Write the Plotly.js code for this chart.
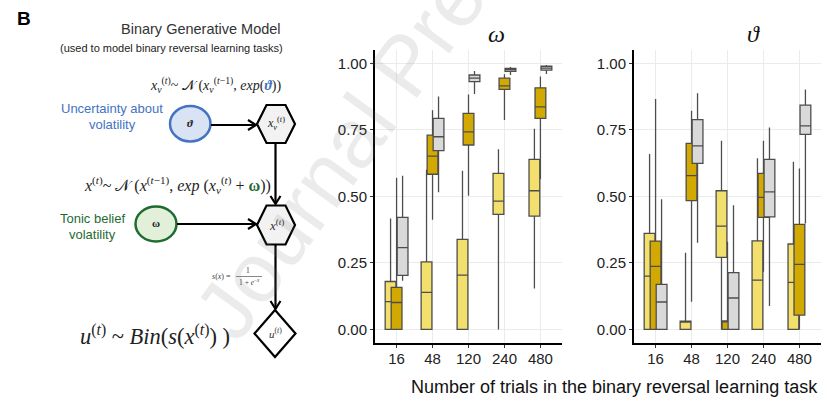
<!DOCTYPE html>
<html><head><meta charset="utf-8">
<script src="https://cdn.plot.ly/plotly-3.0.1.min.js"></script>
<style>html,body{margin:0;padding:0;background:#fff;}#chart{width:827px;height:402px;}</style>
</head><body><div id="chart"></div>
<script>
// ---- data ----
const categories = ['16', '48', '120', '240', '480'];
// each entry: [lowerWhisker, q1, median, q3, upperWhisker]
const omegaLight = [[0, 0, 0.104, 0.180, 0.417], [0, 0, 0.139, 0.254, 0.600], [0, 0, 0.204, 0.338, 0.596], [0, 0.432, 0.482, 0.586, 0.677], [0.154, 0.426, 0.521, 0.639, 0.754]];
const omegaGold  = [[0, 0, 0.101, 0.158, 0.570], [0.412, 0.583, 0.651, 0.730, 0.824], [0.502, 0.693, 0.742, 0.812, 0.883], [0.787, 0.902, 0.915, 0.944, 0.959], [0.564, 0.793, 0.836, 0.908, 0.950]];
const omegaGrey  = [[0.183, 0.203, 0.307, 0.421, 0.577], [0.515, 0.672, 0.724, 0.793, 0.875], [0.885, 0.931, 0.944, 0.956, 0.971], [0.956, 0.970, 0.976, 0.981, 0.986], [0.960, 0.974, 0.982, 0.989, 0.994]];
const thetaLight = [[0, 0, 0.200, 0.361, 0.659], [0, 0, 0.031, 0.031, 0.288], [0, 0.271, 0.388, 0.521, 0.709], [0, 0, 0.185, 0.333, 0.643], [0, 0, 0.177, 0.321, 0.630]];
const thetaGold  = [[0, 0, 0.237, 0.332, 0.866], [0.104, 0.484, 0.578, 0.699, 0.822], [0, 0, 0.032, 0.032, 0.329], [0.217, 0.421, 0.496, 0.586, 0.709], [0, 0.054, 0.244, 0.395, 0.605]];
const thetaGrey  = [[0, 0, 0.103, 0.169, 0.489], [0.326, 0.624, 0.690, 0.788, 0.887], [0, 0, 0.118, 0.213, 0.467], [0.088, 0.423, 0.517, 0.639, 0.759], [0.398, 0.733, 0.765, 0.843, 0.902]];
const yTicks = [0, 0.25, 0.5, 0.75, 1.0];
const yTickText = ['0.00', '0.25', '0.50', '0.75', '1.00'];

// ---- styling ----
const fills = ['#f3df6c', '#d2a900', '#d9d9d9'];
const dodge = [-0.167, 0, 0.167];
const W = 827, H = 402;
const px = x => x / W, py = y => 1 - y / H;

function boxTrace(stats, s, xa, ya) {
  return {
    type: 'box', xaxis: xa, yaxis: ya,
    x: categories.map((c, i) => i + dodge[s]),
    lowerfence: stats.map(d => d[0]), q1: stats.map(d => d[1]), median: stats.map(d => d[2]),
    q3: stats.map(d => d[3]), upperfence: stats.map(d => d[4]),
    width: 0.3, whiskerwidth: 0, fillcolor: fills[s],
    line: {color: '#4d4d4d', width: 1.3}, showlegend: false, hoverinfo: 'skip'
  };
}
const traces = [
  boxTrace(omegaLight, 0, 'x', 'y'), boxTrace(omegaGold, 1, 'x', 'y'), boxTrace(omegaGrey, 2, 'x', 'y'),
  boxTrace(thetaLight, 0, 'x2', 'y2'), boxTrace(thetaGold, 1, 'x2', 'y2'), boxTrace(thetaGrey, 2, 'x2', 'y2')
];

const tickFont = {family: 'Liberation Sans, Arial, sans-serif', size: 15, color: '#222'};
const xBase = {range: [-0.6, 4.6], tickvals: [0, 1, 2, 3, 4], ticktext: categories, showline: true, linecolor: '#000', linewidth: 2,
  ticks: 'outside', ticklen: 3, tickcolor: '#333', showgrid: true, gridcolor: '#ebebeb', gridwidth: 1, zeroline: false, tickfont: tickFont,
  ticklabelstandoff: -2};
const yBase = {range: [-0.05, 1.05], tickvals: yTicks, ticktext: yTickText, showline: true, linecolor: '#000', linewidth: 2,
  ticks: 'outside', ticklen: 3, tickcolor: '#333', showgrid: true, gridcolor: '#ebebeb', gridwidth: 1, zeroline: false, tickfont: tickFont,
  domain: [py(342.7), py(50)]};

const serif = 'Liberation Serif, DejaVu Serif, serif';
const sans = 'Liberation Sans, Arial, sans-serif';
function note(text, x, y, size, opts) {
  return Object.assign({text: text, x: px(x), y: py(y), xref: 'paper', yref: 'paper', showarrow: false,
    xanchor: 'center', yanchor: 'middle', font: {family: sans, size: size, color: '#222'}}, opts || {});
}
const blue = '#4472c4', green = '#1f6b32';
const annotations = [
  note('Journal Pre-proof', 405, 65, 84, {textangle: -54, font: {family: sans, size: 84, color: 'rgba(120,120,120,0.15)'}}),
  note('<b>B</b>', 24, 19, 19, {font: {family: sans, size: 19, color: '#000'}}),
  note('Binary Generative Model', 283, 29, 14.5, {xanchor: 'right', font: {family: sans, size: 14.5, color: '#333'}}),
  note('(used to model binary reversal learning tasks)', 285, 48, 11, {xanchor: 'right', font: {family: sans, size: 11, color: '#222'}}),
  note('<i>x</i><sub><i>v</i></sub><sup>(<i>t</i>)</sup>~ 𝒩 (<i>x</i><sub><i>v</i></sub><sup>(<i>t</i>−1)</sup>, <i>exp</i>(<span style="color:' + blue + '"><b><i>ϑ</i></b></span>))',
       284, 85, 14, {xanchor: 'right', font: {family: serif, size: 14, color: '#222'}}),
  note('Uncertainty about', 112, 108, 13, {font: {family: sans, size: 13, color: blue}}),
  note('volatility', 112, 125, 13, {font: {family: sans, size: 13, color: blue}}),
  note('<b><i>ϑ</i></b>', 190, 123, 11, {font: {family: serif, size: 11, color: '#222'}}),
  note('<i>x</i><sub><i>v</i></sub><sup>(<i>t</i>)</sup>', 276, 124, 12, {font: {family: serif, size: 12, color: '#222'}}),
  note('<i>x</i><sup>(<i>t</i>)</sup>~ 𝒩 (<i>x</i><sup>(<i>t</i>−1)</sup>, <i>exp</i> (<i>x</i><sub><i>v</i></sub><sup>(<i>t</i>)</sup> + <span style="color:' + green + '"><b>ω</b></span>))',
       273, 185, 16, {xanchor: 'right', font: {family: serif, size: 16, color: '#222'}}),
  note('Tonic belief', 92, 218, 13, {font: {family: sans, size: 13, color: green}}),
  note('volatility', 92, 234, 13, {font: {family: sans, size: 13, color: green}}),
  note('<b>ω</b>', 156, 223, 11, {font: {family: serif, size: 11, color: '#222'}}),
  note('<i>x</i><sup>(<i>t</i>)</sup>', 276, 225, 13, {font: {family: serif, size: 13, color: '#333'}}),
  note('<i>s</i>(<i>x</i>) =', 233, 276, 8, {xanchor: 'right', font: {family: serif, size: 8, color: '#444'}}),
  note('1', 248, 270, 7.5, {font: {family: serif, size: 7.5, color: '#444'}}),
  note('1 + <i>e</i><sup>−<i>x</i></sup>', 249, 282, 7.5, {font: {family: serif, size: 7.5, color: '#444'}}),
  note('<i>u</i><sup>(<i>t</i>)</sup> ~ <i>Bin</i>(<i>s</i>(<i>x</i><sup>(<i>t</i>)</sup>) )', 78, 335, 22.5, {xanchor: 'left', font: {family: serif, size: 22.5, color: '#222'}}),
  note('<i>u</i><sup>(<i>t</i>)</sup>', 275, 333, 11, {font: {family: serif, size: 11, color: '#333'}}),
  note('<i>ω</i>', 497, 34, 24, {font: {family: serif, size: 24, color: '#111'}}),
  note('<i>ϑ</i>', 753, 34, 24, {font: {family: serif, size: 24, color: '#111'}}),
  note('Number of trials in the binary reversal learning task', 614, 387, 18, {font: {family: sans, size: 18, color: '#111'}})
];

function path(pts, close) {
  return 'M ' + pts.map(p => px(p[0]) + ' ' + py(p[1])).join(' L ') + (close ? ' Z' : '');
}
function hexagon(cx, cy, hw, hh) {
  return path([[cx - hw, cy], [cx - hw / 2, cy - hh], [cx + hw / 2, cy - hh], [cx + hw, cy], [cx + hw / 2, cy + hh], [cx - hw / 2, cy + hh]], true);
}
const black = {color: '#000', width: 2.2};
const shapes = [
  {type: 'circle', xref: 'paper', yref: 'paper', x0: px(170), x1: px(210.5), y0: py(106), y1: py(141.5), fillcolor: '#dae3f3', line: {color: blue, width: 2.5}},
  {type: 'circle', xref: 'paper', yref: 'paper', x0: px(135.5), x1: px(176.5), y0: py(206.5), y1: py(241.5), fillcolor: '#e2f0d9', line: {color: green, width: 2.5}},
  {type: 'path', xref: 'paper', yref: 'paper', path: hexagon(276, 124, 19, 19), fillcolor: '#f2f2f2', line: black},
  {type: 'path', xref: 'paper', yref: 'paper', path: hexagon(276, 225, 19, 19.5), fillcolor: '#f2f2f2', line: black},
  {type: 'path', xref: 'paper', yref: 'paper', path: path([[275, 310], [295.5, 333.5], [275, 357], [254.5, 333.5]], true), fillcolor: '#ffffff', line: black},
  // connectors
  {type: 'path', xref: 'paper', yref: 'paper', path: path([[211, 125], [255, 125]]), line: black},
  {type: 'path', xref: 'paper', yref: 'paper', path: path([[248, 120], [256, 125], [248, 130]]), line: black},
  {type: 'path', xref: 'paper', yref: 'paper', path: path([[177, 224], [255, 224]]), line: black},
  {type: 'path', xref: 'paper', yref: 'paper', path: path([[248, 219], [256, 224], [248, 229]]), line: black},
  {type: 'path', xref: 'paper', yref: 'paper', path: path([[275.5, 143], [275.5, 204]]), line: black},
  {type: 'path', xref: 'paper', yref: 'paper', path: path([[270.5, 196], [275.5, 204], [280.5, 196]]), line: black},
  {type: 'path', xref: 'paper', yref: 'paper', path: path([[275.5, 244.5], [275.5, 309]]), line: black},
  {type: 'path', xref: 'paper', yref: 'paper', path: path([[270.5, 301], [275.5, 309], [280.5, 301]]), line: black},
  {type: 'path', xref: 'paper', yref: 'paper', path: path([[236, 276.5], [262, 276.5]]), line: {color: '#555', width: 0.7}}
];

const layout = {
  width: W, height: H, margin: {l: 0, r: 0, t: 0, b: 0}, paper_bgcolor: '#fff', plot_bgcolor: '#fff',
  boxmode: 'overlay', showlegend: false,
  xaxis: Object.assign({}, xBase, {domain: [px(375), px(562)], anchor: 'y'}),
  yaxis: Object.assign({}, yBase, {anchor: 'x'}),
  xaxis2: Object.assign({}, xBase, {domain: [px(634), px(821)], anchor: 'y2'}),
  yaxis2: Object.assign({}, yBase, {anchor: 'x2'}),
  annotations: annotations, shapes: shapes
};
Plotly.newPlot('chart', traces, layout, {staticPlot: true});
</script></body></html>
